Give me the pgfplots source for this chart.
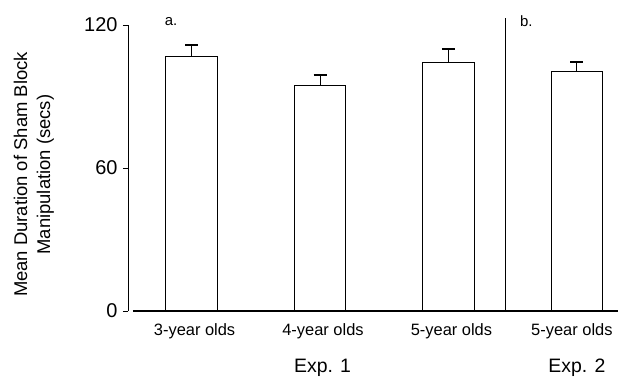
\documentclass[border=0pt]{standalone}
\usepackage{fontspec}
\setmainfont{Liberation Sans}
\usepackage{pgfplots}
\pgfplotsset{compat=1.18}
\begin{document}
\begin{tikzpicture}
\useasboundingbox (-128bp,-68bp) rectangle (490bp,311bp);
\begin{axis}[
  scale only axis,
  width=490bp, height=286bp,
  xmin=-0.495, xmax=3.32,
  ymin=0, ymax=120,
  clip=false,
  axis on top,
  axis x line*=bottom,
  axis y line*=left,
  x axis line style={line width=2.2pt, shorten <=5bp},
  y axis line style={line width=1pt},
  ytick={0,60,120},
  xtick={0,1,2,3},
  xticklabels={3-year olds,4-year olds,5-year olds,{\kern-16bp 5-year olds}},
  x tick style={draw=none},
  y tick style={black, line width=0.8pt},
  tick align=outside,
  major tick length=5bp,
  /pgf/number format/assume math mode=true,
  yticklabel style={font=\fontsize{20}{22}\selectfont, xshift=-2bp},
  xticklabel style={font=\fontsize{16.5}{20}\selectfont, yshift=-4bp, xshift=3bp},
  every axis y label/.style={at={(axis description cs:-0.192,0.477)}, rotate=90, anchor=center, align=center, font=\fontsize{18.5}{23}\selectfont},
  ylabel={Mean Duration of Sham Block\\Manipulation (secs)},
  ybar, bar width=0.4,
]
\addplot[draw=black, fill=white, line width=1pt,
  error bars/.cd, y dir=plus, y explicit,
  error bar style={line width=0.9pt},
  error mark options={rotate=90, mark size=6.5bp, line width=1.8pt}]
  coordinates {(0,106.6) +- (0,5.0) (1,94.8) +- (0,4.2) (2,104.1) +- (0,5.8) (3,100.3) +- (0,4.2)};
\draw[line width=1pt] (axis cs:2.443,0) -- (axis cs:2.443,123);
\node[anchor=west, font=\fontsize{15}{17}\selectfont] at (axis cs:-0.235,121.5) {a.};
\node[anchor=west, font=\fontsize{15}{17}\selectfont] at (axis cs:2.53,121.5) {b.};
\node[font=\fontsize{19.5}{22}\selectfont] at (axis cs:1.02,-24) {Exp. 1};
\node[font=\fontsize{19.5}{22}\selectfont] at (axis cs:3,-24) {Exp. 2};
\end{axis}
\end{tikzpicture}
\end{document}
